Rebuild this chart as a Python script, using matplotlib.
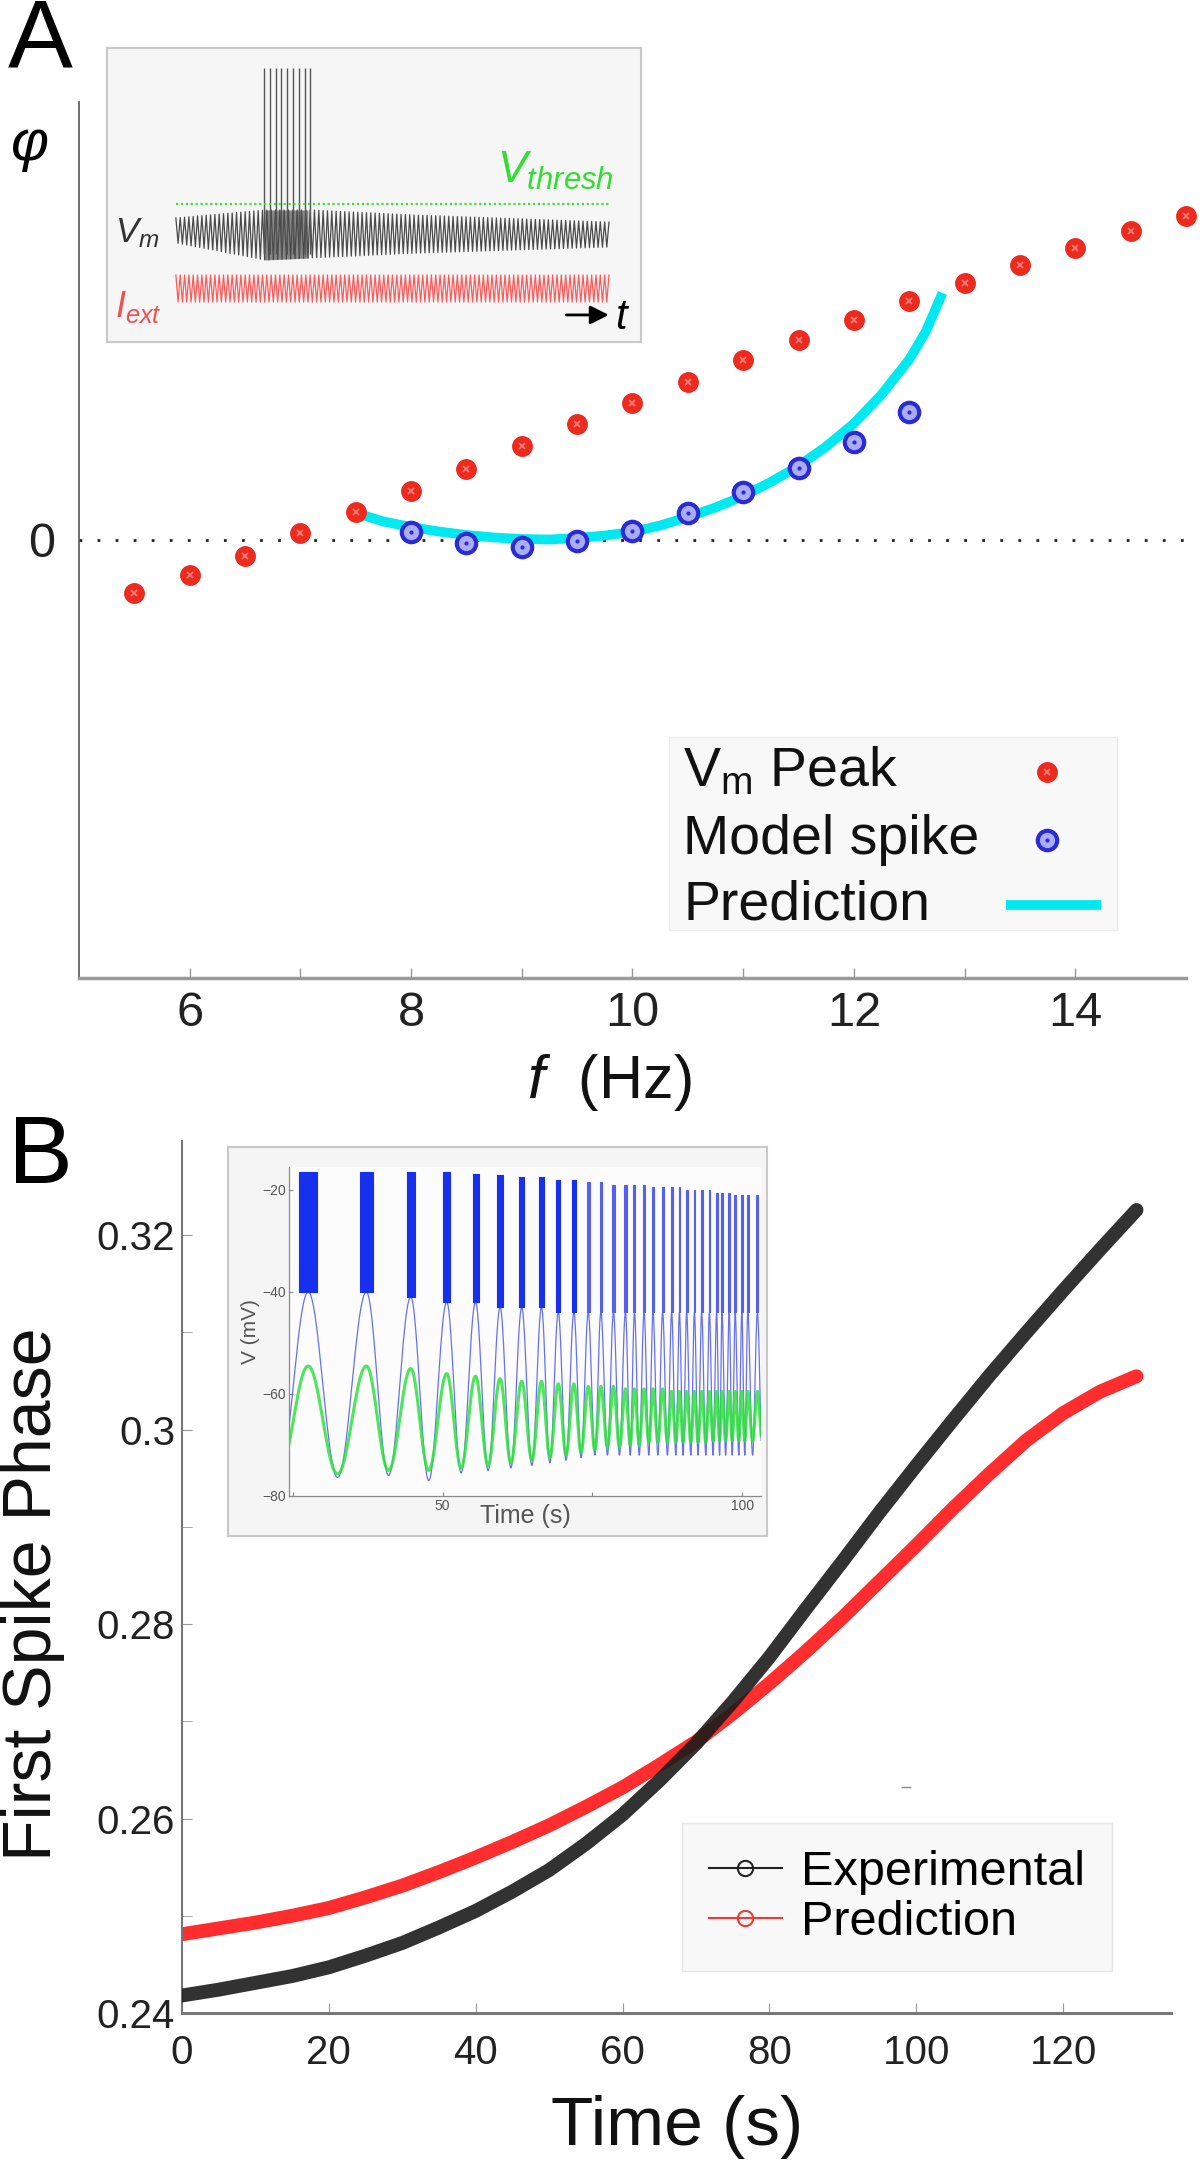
import numpy as np
import matplotlib
matplotlib.use("Agg")
import matplotlib.pyplot as plt
from matplotlib.lines import Line2D

plt.rcParams['font.family'] = ['Liberation Sans', 'DejaVu Sans']
plt.rcParams['mathtext.fontset'] = 'custom'
plt.rcParams['mathtext.rm'] = 'Liberation Sans'
plt.rcParams['mathtext.it'] = 'Liberation Sans:italic'
plt.rcParams['mathtext.bf'] = 'Liberation Sans:bold'

# ---- panel A data (phase in arbitrary units, 0 = dotted line) ----
freq_peak = [5.5, 6.0, 6.5, 7.0, 7.5, 8.0, 8.5, 9.0, 9.5, 10.0,
             10.5, 11.0, 11.5, 12.0, 12.5, 13.0, 13.5, 14.0, 14.5, 15.0]
phase_peak = [-0.535, -0.355, -0.165, 0.065, 0.275, 0.485, 0.705, 0.935, 1.155, 1.37,
              1.58, 1.795, 1.995, 2.195, 2.385, 2.57, 2.745, 2.915, 3.08, 3.235]
freq_model = [8.0, 8.5, 9.0, 9.5, 10.0, 10.5, 11.0, 11.5, 12.0, 12.5]
phase_model = [0.075, -0.035, -0.075, -0.015, 0.085, 0.265, 0.475, 0.715, 0.975, 1.275]
freq_pred = [7.56, 7.75, 8.0, 8.25, 8.5, 8.75, 9.0, 9.25, 9.5, 9.75, 10.0, 10.25,
             10.5, 10.75, 11.0, 11.25, 11.5, 11.75, 12.0, 12.25, 12.5, 12.65, 12.8]
phase_pred = [0.245, 0.18, 0.125, 0.08, 0.045, 0.02, 0.005, 0.0, 0.015, 0.04, 0.075, 0.14,
              0.225, 0.32, 0.435, 0.575, 0.735, 0.93, 1.16, 1.45, 1.80, 2.08, 2.465]
legend_a = [r'$\mathrm{V_m}$ Peak', 'Model spike', 'Prediction']

# inset A (schematic, box units 0-100)
trace_x = [12.9, 94.0]
env_x = [12.9, 29.6, 38.2, 57.6, 94.0]
vm_top = [42.2, 44.9, 44.9, 43.2, 40.8]
vm_bot = [33.7, 27.9, 28.6, 30.2, 32.3]
spike_x = [29.4, 30.5, 31.6, 32.6, 33.7, 34.8, 35.9, 37.0, 38.0]
spike_top = 93.2
thresh_y = 46.9
iext_top, iext_bot = 22.8, 13.6
n_cycles = 100

# ---- panel B data ----
time_s = [0, 5, 10, 15, 20, 25, 30, 35, 40, 45, 50, 55, 60, 65, 70,
          75, 80, 85, 90, 95, 100, 105, 110, 115, 120, 125, 130]
exp_phase = [0.2418, 0.2424, 0.2431, 0.2438, 0.2447, 0.2459, 0.2472, 0.2488, 0.2505,
             0.2525, 0.2547, 0.2574, 0.2604, 0.2639, 0.2677, 0.2720, 0.2766, 0.2816,
             0.2865, 0.2915, 0.2963, 0.3010, 0.3056, 0.3100, 0.3143, 0.3185, 0.3226]
pred_phase = [0.2481, 0.2487, 0.2493, 0.2500, 0.2508, 0.2519, 0.2531, 0.2545, 0.2560,
              0.2576, 0.2593, 0.2612, 0.2632, 0.2655, 0.2679, 0.2708, 0.2739, 0.2772,
              0.2807, 0.2844, 0.2881, 0.2919, 0.2955, 0.2989, 0.3017, 0.3039, 0.3055]

# inset B: burst centres, widths, tops (s, s, mV)
burst_t = [27.6, 37.3, 44.7, 50.7, 55.5, 59.6, 63.2, 66.5, 69.3, 71.9, 74.3, 76.4,
           78.5, 80.5, 82.0, 83.6, 85.1, 86.7, 88.2, 89.5, 90.7, 92.0, 93.2, 94.5,
           95.7, 96.6, 97.8, 98.8, 99.9, 100.9, 102.5]
burst_w = [3.1, 2.2, 1.4, 1.1, 1.0, 0.9, 0.8, 0.7, 0.6, 0.55, 0.5, 0.45,
           0.4, 0.4, 0.35, 0.35, 0.3, 0.3, 0.3, 0.3, 0.3, 0.3, 0.3, 0.3,
           0.3, 0.3, 0.3, 0.3, 0.3, 0.3, 0.3]
burst_top = [-16.5, -16.5, -16.5, -16.5, -16.8, -17, -17.5, -17.5, -18, -18, -18.5, -18.5,
             -19, -19, -19, -19, -19.5, -19.5, -19.5, -19.5, -20, -20, -20, -20,
             -20.5, -20.5, -20.5, -21, -21, -21, -21]
blue_peak = [-40, -40, -41, -42, -42, -43, -43, -43, -44, -44, -44, -44,
             -44, -44, -44, -44, -44, -44, -44, -44, -44, -44, -44, -44,
             -44, -44, -44, -44, -44, -44, -44]
green_peak = [-54.5, -54.5, -55, -56, -56.5, -57, -57.5, -57.5, -58, -58, -58.5, -58.5,
              -58.5, -59, -59, -59, -59, -59, -59.5, -59.5, -59.5, -59.5, -59.5, -59.5,
              -59.5, -59.5, -59.5, -59.5, -59.5, -59.5, -59.5]
trough_t = [22.6, 32.5, 41.0, 47.7, 53.1, 57.6, 61.4, 64.9, 67.9, 70.6, 73.1, 75.4,
            77.5, 79.5, 81.3, 82.8, 84.4, 85.9, 87.5, 88.9, 90.1, 91.4, 92.6, 93.9,
            95.1, 96.2, 97.2, 98.3, 99.4, 100.4, 101.7, 103.3]
green_trough = [-76, -75.7, -75, -75, -74.5, -74, -73.5, -73, -72.5, -72, -71.5, -71,
                -70.5, -70.5, -70, -70, -69.5, -69.5, -69.5, -69.5, -69.5, -69.5, -69.5, -69.5,
                -69.2, -69.2, -69.2, -69.2, -69.2, -69.2, -69.2, -69.2]
blue_trough = [-77, -76.4, -76, -77, -75.5, -75, -74.5, -74, -73.5, -73, -72.5, -72,
               -72, -72, -72, -72, -72, -72, -72, -72, -72, -72, -72, -72,
               -72, -72, -72, -72, -72, -72, -72, -72]


def smooth_wave(tx, vx, n=24):
    # half-cosine segments between read extrema
    ts, vs = [], []
    for i in range(len(tx) - 1):
        s = np.linspace(0, 1, n, endpoint=False)
        ts.append(tx[i] + (tx[i + 1] - tx[i]) * s)
        vs.append(vx[i] + (vx[i + 1] - vx[i]) * (1 - np.cos(np.pi * s)) / 2)
    ts.append([tx[-1]])
    vs.append([vx[-1]])
    return np.concatenate(ts), np.concatenate(vs)


def alternate(peak_t, peak_v, tr_t, tr_v):
    t, v = [], []
    for i in range(len(peak_t)):
        t += [tr_t[i], peak_t[i]]
        v += [tr_v[i], peak_v[i]]
    t.append(tr_t[-1])
    v.append(tr_v[-1])
    return t, v


RED, RED_DOT = '#ec2a1e', '#f47f76'
BLUE_RING, BLUE_FACE = '#2b2bd6', '#a9acf6'
CYAN = '#00e8f0'

fig = plt.figure(figsize=(12, 21.61), dpi=100)

# ================= panel A =================
ax = fig.add_axes([0.06583, 0.54743, 0.9225, 0.40537])
ax.set_xlim(5, 15)
ax.set_ylim(-4.385, 4.375)
ax.axhline(0, color='#222222', lw=2, ls=(0, (1, 5.5)), zorder=1)
ax.plot(freq_pred, phase_pred, color=CYAN, lw=7, solid_capstyle='butt', zorder=2)
ax.plot(freq_peak, phase_peak, 'o', ms=14, mfc=RED, mec=RED, zorder=3, clip_on=False)
ax.plot(freq_peak, phase_peak, 'x', ms=5, mec=RED_DOT, mew=1.3, zorder=4, clip_on=False)
ax.plot(freq_model, phase_model, 'o', ms=14, mfc=BLUE_FACE, mec=BLUE_RING, mew=3, zorder=3)
ax.plot(freq_model, phase_model, '.', ms=4, color=BLUE_RING, zorder=4)

for s in ['top', 'right']:
    ax.spines[s].set_visible(False)
ax.spines['left'].set_color('#555555')
ax.spines['left'].set_linewidth(1.2)
ax.spines['bottom'].set_color('#9a9a9a')
ax.spines['bottom'].set_linewidth(2.5)
ax.set_xticks([6, 8, 10, 12, 14])
ax.set_xticks([7, 9, 11, 13], minor=True)
ax.tick_params(axis='x', which='both', direction='in', length=7, width=1,
               color='#999999', pad=9, labelsize=35, labelcolor='#222222')
ax.set_yticks([0])
ax.tick_params(axis='y', length=0, pad=17, labelsize=35, labelcolor='#222222')

fig.text(0.025, 0.9329, 'φ', fontsize=42, ha='center', va='center', style='italic')
fig.text(0.508, 0.4993, r'$f$  (Hz)', fontsize=44, ha='center', va='center', color='#111111')
fig.text(0.0333, 0.981, 'A', fontsize=70, ha='center', va='center')

# legend A: labels left, keys right (pixel units inside the box)
lg = fig.add_axes([669 / 1200, 1 - 930 / 2161, 448 / 1200, 193 / 2161])
lg.set_xlim(669, 1117)
lg.set_ylim(930, 737)
lg.set_facecolor('#f8f8f8')
for s in lg.spines.values():
    s.set_color('#ececec')
lg.set_xticks([])
lg.set_yticks([])
rows_y = [772, 840, 905]
for lab, yy in zip(legend_a, rows_y):
    lg.text(683, yy, lab, fontsize=40, va='center', ha='left', color='#111111')
lg.plot([1047], [rows_y[0]], 'o', ms=14, mfc=RED, mec=RED)
lg.plot([1047], [rows_y[0]], 'x', ms=5, mec=RED_DOT, mew=1.3)
lg.plot([1047], [rows_y[1]], 'o', ms=14, mfc=BLUE_FACE, mec=BLUE_RING, mew=3)
lg.plot([1047], [rows_y[1]], '.', ms=4, color=BLUE_RING)
lg.plot([1006, 1101], [rows_y[2], rows_y[2]], color=CYAN, lw=7, solid_capstyle='butt')

# inset A (schematic)
axa = fig.add_axes([0.08917, 0.84174, 0.445, 0.13605])
axa.set_xlim(0, 100)
axa.set_ylim(0, 100)
axa.set_facecolor('#f6f6f6')
for s in axa.spines.values():
    s.set_color('#c8c8c8')
    s.set_linewidth(1.5)
axa.set_xticks([])
axa.set_yticks([])

zx = np.linspace(trace_x[0], trace_x[1], 2 * n_cycles + 1)
top_i = np.interp(zx, env_x, vm_top)
bot_i = np.interp(zx, env_x, vm_bot)
vm_z = np.where(np.arange(len(zx)) % 2 == 0, top_i, bot_i)
axa.plot(zx, vm_z, color='#4a4a4a', lw=0.9)
sp = (zx >= spike_x[0]) & (zx <= spike_x[-1])
axa.fill_between(zx[sp], bot_i[sp], top_i[sp], color='black', alpha=0.45, lw=0)
axa.vlines(spike_x, 30, spike_top, color='#555555', lw=1.0)
axa.plot(trace_x, [thresh_y, thresh_y], color='#3ddc3d', lw=1.6, ls=(0, (1, 1.2)))
ie_z = np.where(np.arange(len(zx)) % 2 == 0, iext_top, iext_bot)
axa.plot(zx, ie_z, color='#ff5a5a', lw=0.9)
axa.text(1.5, 37, r'$V_m$', fontsize=25, color='#333333', va='center', ha='left')
axa.text(1.5, 12, r'$I_{ext}$', fontsize=26, color='#f05050', va='center', ha='left')
axa.text(73, 51, r'$V_{thresh}$', fontsize=32, color='#33dd33', va='bottom', ha='left')
axa.annotate('', xy=(94.5, 9.2), xytext=(85.5, 9.2),
             arrowprops=dict(arrowstyle='-|>', color='black', lw=2, mutation_scale=28))
axa.text(95.2, 8, r'$t$', fontsize=30, va='center', ha='left')

# ================= panel B =================
bx = fig.add_axes([0.15167, 0.06849, 0.82417, 0.40352])
bx.set_xlim(0, 134.7)
bx.set_ylim(0.24, 0.3297)
bx.plot(time_s, pred_phase, color='#ff2d2d', lw=10, solid_capstyle='round', zorder=2)
bx.plot(time_s, exp_phase, color='#1c1c1c', lw=10, alpha=0.9, solid_capstyle='round', zorder=3)
bx.plot([98.6], [0.2632], marker='_', ms=7, color='#8a8a8a')
for s in ['top', 'right']:
    bx.spines[s].set_visible(False)
for s in ['left', 'bottom']:
    bx.spines[s].set_color('#777777')
bx.spines['left'].set_linewidth(1.5)
bx.spines['bottom'].set_linewidth(2.2)
bx.set_xticks([0, 20, 40, 60, 80, 100, 120])
bx.set_yticks([0.24, 0.26, 0.28, 0.30, 0.32])
bx.set_yticklabels(['0.24', '0.26', '0.28', '0.3', '0.32'])
bx.set_yticks([0.25, 0.27, 0.29, 0.31], minor=True)
bx.tick_params(axis='x', which='both', direction='in', length=7, color='#999999',
               pad=15, labelsize=29, labelcolor='#222222')
bx.tick_params(axis='y', which='both', direction='in', length=7, color='#999999',
               pad=5, labelsize=29, labelcolor='#222222')

h_exp = Line2D([], [], color='#222222', lw=1.5, marker='o', ms=11, mfc='none', mec='#222222', mew=1.5)
h_prd = Line2D([], [], color='#ee3a3a', lw=1.5, marker='o', ms=11, mfc='none', mec='#ee3a3a', mew=1.5)
legb = bx.legend([h_exp, h_prd], ['Experimental', 'Prediction'],
                 loc='upper left', bbox_to_anchor=(682 / 1200, 1 - 1823 / 2161),
                 bbox_transform=fig.transFigure, fontsize=35, handlelength=1.5,
                 handletextpad=0.4, borderpad=0.55, labelspacing=0.1,
                 borderaxespad=0, fancybox=False, frameon=True)
legb.get_frame().set_facecolor('#f8f8f8')
legb.get_frame().set_edgecolor('#e6e6e6')
legb.get_frame().set_alpha(1)

fig.text(0.564, 0.0157, 'Time (s)', fontsize=50, ha='center', va='center', color='#111111')
fig.text(0.0275, 0.2624, 'First Spike Phase', fontsize=49, rotation=90,
         ha='center', va='center', color='#111111')
fig.text(0.034, 0.4641, 'B', fontsize=70, ha='center', va='center')

# inset B frame and trace axes
box = fig.add_axes([0.19, 0.28922, 0.44917, 0.18001])
box.set_facecolor('#f5f5f5')
for s in box.spines.values():
    s.set_color('#c8c8c8')
    s.set_linewidth(1.5)
box.set_xticks([])
box.set_yticks([])

ib = fig.add_axes([0.24083, 0.30773, 0.39333, 0.15224])
ib.set_facecolor('#fcfcfc')
ib.set_xlim(24.4, 103.1)
ib.set_ylim(-80, -15.5)

bt, bv = alternate(burst_t, blue_peak, trough_t, blue_trough)
wt, wv = smooth_wave(bt, bv)
ib.plot(wt, wv, color='#4d58ee', lw=0.9, alpha=0.85, zorder=2)
for i in range(len(burst_t)):
    c = '#1630ee' if i < 10 else '#5560f0'
    ib.fill_between([burst_t[i] - burst_w[i] / 2, burst_t[i] + burst_w[i] / 2],
                    blue_peak[i], burst_top[i], color=c, lw=0.8, zorder=3)
gt, gv = alternate(burst_t, green_peak, trough_t, green_trough)
st, sv = smooth_wave(gt, gv)
ib.plot(st, sv, color='#2fe040', lw=2.2, alpha=0.85, zorder=4)

for s in ['top', 'right']:
    ib.spines[s].set_visible(False)
for s in ['left', 'bottom']:
    ib.spines[s].set_color('#8a8a8a')
    ib.spines[s].set_linewidth(0.9)
ib.set_yticks([-80, -60, -40, -20])
ib.set_xticks([25, 50, 75, 100])
ib.set_xticklabels(['', '50', '', '100'])
ib.tick_params(direction='in', length=3, color='#888888', labelsize=10,
               labelcolor='#555555', pad=2)
ib.set_xlabel('Time (s)', fontsize=18, color='#555555', labelpad=-6)
ib.set_ylabel('V (mV)', fontsize=15, color='#555555', labelpad=2)

fig.savefig('out.png', dpi=100)
